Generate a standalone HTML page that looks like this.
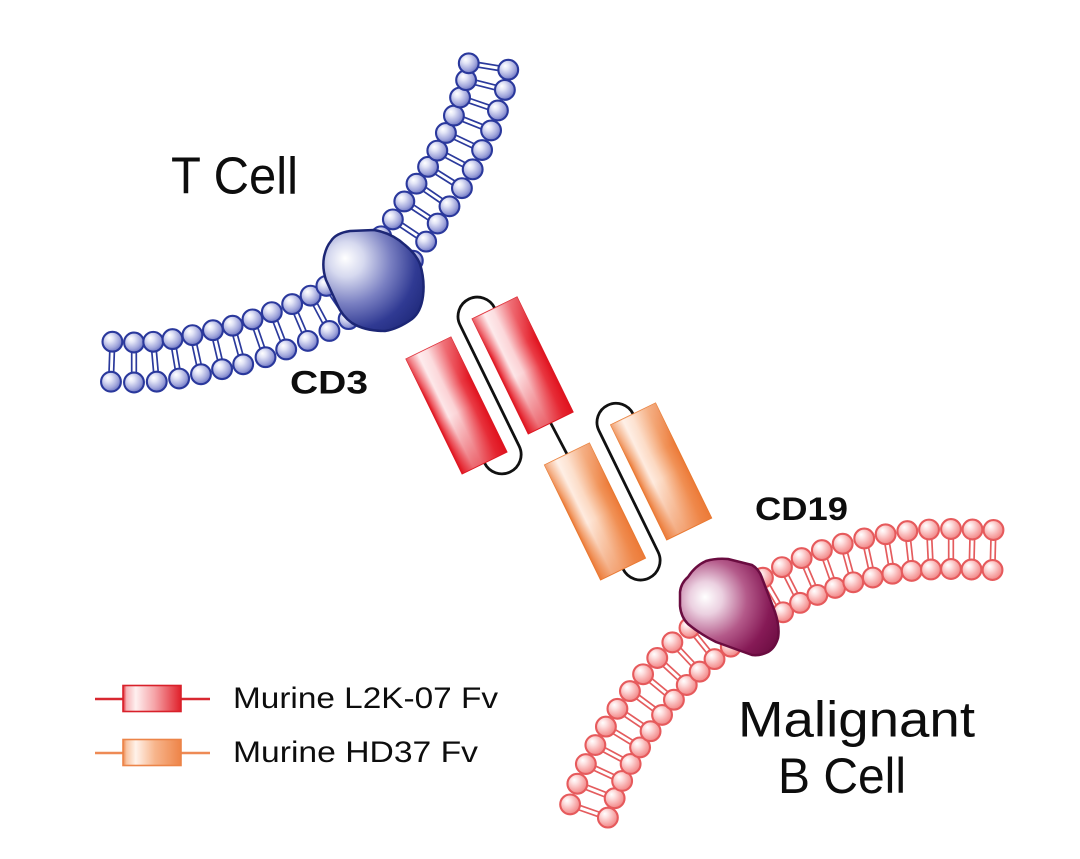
<!DOCTYPE html>
<html>
<head>
<meta charset="utf-8">
<style>
  html,body{margin:0;padding:0;background:#ffffff;}
  body{width:1080px;height:859px;overflow:hidden;}
  svg{display:block;}
  .lbl{font-family:"Liberation Sans",Arial,sans-serif;fill:#0d0d0d;}
</style>
</head>
<body>
<svg width="1080" height="859" viewBox="0 0 1080 859">
  <defs>
    <radialGradient id="bball" cx="0.4" cy="0.38" r="0.62" fx="0.34" fy="0.3">
      <stop offset="0" stop-color="#ffffff"/>
      <stop offset="0.3" stop-color="#e2e4f6"/>
      <stop offset="0.75" stop-color="#a2a7dc"/>
      <stop offset="1" stop-color="#7179c4"/>
    </radialGradient>
    <radialGradient id="rball" cx="0.4" cy="0.38" r="0.62" fx="0.34" fy="0.3">
      <stop offset="0" stop-color="#ffffff"/>
      <stop offset="0.3" stop-color="#fde0e0"/>
      <stop offset="0.75" stop-color="#f7a6a6"/>
      <stop offset="1" stop-color="#f08888"/>
    </radialGradient>
    <radialGradient id="cd3g" gradientUnits="userSpaceOnUse" cx="352" cy="265" r="88" fx="345" fy="258">
      <stop offset="0" stop-color="#ffffff"/>
      <stop offset="0.2" stop-color="#d6d9ef"/>
      <stop offset="0.48" stop-color="#7a80c2"/>
      <stop offset="0.75" stop-color="#303a93"/>
      <stop offset="1" stop-color="#1c2675"/>
    </radialGradient>
    <radialGradient id="cd19g" gradientUnits="userSpaceOnUse" cx="710" cy="602" r="82" fx="705" fy="597">
      <stop offset="0" stop-color="#ffffff"/>
      <stop offset="0.2" stop-color="#ebd0e0"/>
      <stop offset="0.48" stop-color="#b45a8a"/>
      <stop offset="0.75" stop-color="#861a56"/>
      <stop offset="1" stop-color="#6a0c40"/>
    </radialGradient>
    <linearGradient id="redH" x1="0" y1="0" x2="1" y2="0">
      <stop offset="0" stop-color="#e0121e"/>
      <stop offset="0.08" stop-color="#ee5a62"/>
      <stop offset="0.26" stop-color="#fde6e8"/>
      <stop offset="0.45" stop-color="#fbd2d5"/>
      <stop offset="0.8" stop-color="#ea3a44"/>
      <stop offset="1" stop-color="#e0121e"/>
    </linearGradient>
    <linearGradient id="redV" x1="0" y1="0" x2="0" y2="1">
      <stop offset="0" stop-color="#ffffff" stop-opacity="0.3"/>
      <stop offset="0.35" stop-color="#ffffff" stop-opacity="0"/>
      <stop offset="0.55" stop-color="#e0121e" stop-opacity="0"/>
      <stop offset="1" stop-color="#e0121e" stop-opacity="0.6"/>
    </linearGradient>
    <linearGradient id="orH" x1="0" y1="0" x2="1" y2="0">
      <stop offset="0" stop-color="#ec7a38"/>
      <stop offset="0.08" stop-color="#f3a372"/>
      <stop offset="0.26" stop-color="#feebdf"/>
      <stop offset="0.45" stop-color="#fcd9c2"/>
      <stop offset="0.8" stop-color="#f19257"/>
      <stop offset="1" stop-color="#ec7a38"/>
    </linearGradient>
    <linearGradient id="orV" x1="0" y1="0" x2="0" y2="1">
      <stop offset="0" stop-color="#ffffff" stop-opacity="0.3"/>
      <stop offset="0.35" stop-color="#ffffff" stop-opacity="0"/>
      <stop offset="0.55" stop-color="#ec7a38" stop-opacity="0"/>
      <stop offset="1" stop-color="#ec7a38" stop-opacity="0.6"/>
    </linearGradient>
    <linearGradient id="legR" x1="0" y1="0" x2="1" y2="0">
      <stop offset="0" stop-color="#e0202a"/>
      <stop offset="0.06" stop-color="#f6b4b8"/>
      <stop offset="0.22" stop-color="#fef0f0"/>
      <stop offset="0.55" stop-color="#f5a2a6"/>
      <stop offset="1" stop-color="#e0202a"/>
    </linearGradient>
    <linearGradient id="legO" x1="0" y1="0" x2="1" y2="0">
      <stop offset="0" stop-color="#ee8448"/>
      <stop offset="0.06" stop-color="#f8c4a2"/>
      <stop offset="0.22" stop-color="#fff2ea"/>
      <stop offset="0.55" stop-color="#f7b58c"/>
      <stop offset="1" stop-color="#ee8448"/>
    </linearGradient>
  </defs>

  <!-- membranes (generated) -->
  <g id="tmem"></g>
  <g id="bmem"></g>

  <!-- CD3 protein -->
  <path d="M331,241 Q336,233 350,231 L374,230 Q392,233 405,245 Q416,254 420,264 Q425,280 423,296 Q421,312 412,319 Q398,329 385,331 Q365,331 352,323 Q342,316 337,304 L326,280 Q322,268 324,257 Q326,247 331,241 Z"
        fill="url(#cd3g)" stroke="#1c2675" stroke-width="2.5" stroke-linejoin="round"/>

  <!-- CD19 protein -->
  <path d="M688,577 Q695,566 706,561 Q716,558 728,559 L752,565 Q759,569 762,578 L775,612 Q780,627 778,638 Q775,648 768,652 Q760,656 752,655 L716,642 Q700,634 688,624 Q681,617 680,606 L680,592 Q681,583 688,577 Z"
        fill="url(#cd19g)" stroke="#6a0c40" stroke-width="2.5" stroke-linejoin="round"/>

  <!-- Bispecific antibody (rotated frame) -->
  <g transform="translate(456.5,405.5) rotate(-26)">
    <path d="M77,-71 A19.25,19.25 0 0 0 38.5,-71 L38.5,64 A19.25,19.25 0 0 1 0,64" fill="none" stroke="#111" stroke-width="2.8"/>
    <path d="M155,85 A19,19 0 0 0 117,85 L117,220 A19.5,19.5 0 0 1 78,220" fill="none" stroke="#111" stroke-width="2.8"/>
    <path d="M77,57 L78,92" fill="none" stroke="#111" stroke-width="2.8"/>

    <rect x="-25" y="-64" width="50" height="128" fill="url(#redH)" stroke="#dc1a24" stroke-width="1"/>
    <rect x="-25" y="-64" width="50" height="128" fill="url(#redV)"/>
    <rect x="52" y="-71" width="50" height="128" fill="url(#redH)" stroke="#dc1a24" stroke-width="1"/>
    <rect x="52" y="-71" width="50" height="128" fill="url(#redV)"/>

    <rect x="53" y="92" width="50" height="128" fill="url(#orH)" stroke="#e8782f" stroke-width="1"/>
    <rect x="53" y="92" width="50" height="128" fill="url(#orV)"/>
    <rect x="130" y="85" width="50" height="128" fill="url(#orH)" stroke="#e8782f" stroke-width="1"/>
    <rect x="130" y="85" width="50" height="128" fill="url(#orV)"/>
  </g>

  <!-- Labels -->
  <text class="lbl" x="171" y="193.5" font-size="52" textLength="127" lengthAdjust="spacingAndGlyphs">T Cell</text>
  <text class="lbl" x="290" y="393.5" font-size="32" font-weight="bold" textLength="78" lengthAdjust="spacingAndGlyphs">CD3</text>
  <text class="lbl" x="755" y="520" font-size="32" font-weight="bold" textLength="93" lengthAdjust="spacingAndGlyphs">CD19</text>
  <text class="lbl" x="738" y="736.5" font-size="50" textLength="237" lengthAdjust="spacingAndGlyphs">Malignant</text>
  <text class="lbl" x="778" y="793" font-size="50" textLength="128" lengthAdjust="spacingAndGlyphs">B Cell</text>

  <!-- Legend -->
  <line x1="95" y1="699" x2="210" y2="699" stroke="#d82830" stroke-width="2.6"/>
  <rect x="123" y="685.5" width="58" height="26" fill="url(#legR)" stroke="#d8202a" stroke-width="1.6"/>
  <line x1="95" y1="753" x2="210" y2="753" stroke="#ee8a55" stroke-width="2.6"/>
  <rect x="123" y="739.5" width="58" height="26" fill="url(#legO)" stroke="#ec8448" stroke-width="1.6"/>
  <text class="lbl" x="233" y="708" font-size="30" textLength="265" lengthAdjust="spacingAndGlyphs">Murine L2K-07 Fv</text>
  <text class="lbl" x="233" y="762" font-size="30" textLength="245" lengthAdjust="spacingAndGlyphs">Murine HD37 Fv</text>
</svg>

<script>
(function(){
  function membrane(pts, fillId, stroke, tail){
    var tails = '', balls = '';
    for (var i = 0; i < pts.length; i++){
      var p = pts[i];
      var a = pts[Math.max(0, i-1)], b = pts[Math.min(pts.length-1, i+1)];
      var dx = b[0]-a[0], dy = b[1]-a[1];
      var L = Math.sqrt(dx*dx+dy*dy); dx /= L; dy /= L;
      var nx = -dy, ny = dx;
      var offs = [-2.3, 2.3];
      for (var k = 0; k < 2; k++){
        var s = offs[k];
        var x1 = p[0] + s*dx - 13*nx, y1 = p[1] + s*dy - 13*ny;
        var x2 = p[0] + s*dx + 13*nx, y2 = p[1] + s*dy + 13*ny;
        tails += '<line x1="'+x1.toFixed(2)+'" y1="'+y1.toFixed(2)+'" x2="'+x2.toFixed(2)+'" y2="'+y2.toFixed(2)+'" stroke="'+tail+'" stroke-width="1.7"/>';
      }
      var ux = p[0] + 20*nx, uy = p[1] + 20*ny;
      var vx = p[0] - 20*nx, vy = p[1] - 20*ny;
      balls += '<circle cx="'+ux.toFixed(2)+'" cy="'+uy.toFixed(2)+'" r="9.9" fill="url(#'+fillId+')" stroke="'+stroke+'" stroke-width="2.1"/>';
      balls += '<circle cx="'+vx.toFixed(2)+'" cy="'+vy.toFixed(2)+'" r="9.9" fill="url(#'+fillId+')" stroke="'+stroke+'" stroke-width="2.1"/>';
    }
    return tails + balls;
  }
  var T = [[111.7,361.7],[134,362.5],[155,361.7],[175.8,358.8],[196.7,354.7],[217.5,349.7],[237.9,345],[259,338.3],[279,330.8],[300,322.5],[320,313.3],[337.5,302.5],[354,290.5],[369.5,277.5],[384,263.5],[397,248.5],[409.5,230.5],[421,212.5],[433,195],[445,177.5],[455,160],[464,141.5],[472.5,123],[479,104],[485.5,85],[488.5,66.5]];
  var B = [[589,811],[596,791],[604,772.5],[613,754.5],[623,737],[634,720],[646,703],[658.5,687],[672,671.5],[686,657],[702,643.5],[719,630.5],[737,618],[755,606],[773,595],[791,585],[809.5,576.5],[828.5,569],[848,563],[868.5,558],[889,554],[909.5,551],[930,549.5],[951,549],[972,549.5],[993,550]];
  document.getElementById('tmem').innerHTML = membrane(T, 'bball', '#2a389c', '#2b3a9c');
  document.getElementById('bmem').innerHTML = membrane(B, 'rball', '#e65a5c', '#e45c5e');
})();
</script>
</body>
</html>
